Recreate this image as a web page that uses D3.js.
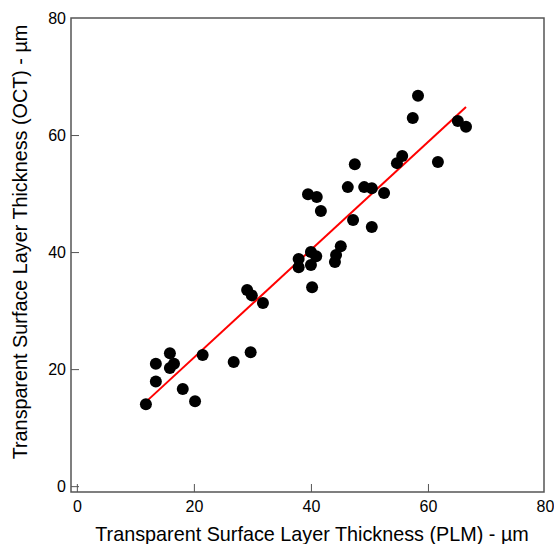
<!DOCTYPE html>
<html>
<head>
<meta charset="utf-8">
<script src="https://cdn.jsdelivr.net/npm/d3@7"></script>
<style>
  html, body { margin: 0; padding: 0; background: #fff; }
  svg { display: block; }
  text { font-family: "Liberation Sans", Arial, sans-serif; }
</style>
</head>
<body>
<svg id="chart" width="554" height="544"></svg>
<script>
// ---- data ----
const plmThickness = [11.8, 13.5, 13.5, 15.9, 15.9, 16.6, 18.1, 20.2, 21.5, 26.8, 29.7, 29.1, 29.9, 31.8,
  37.9, 37.9, 40.0, 40.9, 40.0, 40.2, 39.5, 41.0, 41.7, 45.1, 44.3, 44.1, 47.2, 47.5, 46.3, 49.1,
  50.4, 52.5, 50.4, 54.7, 55.6, 57.4, 58.3, 61.7, 65.1, 66.5];
const octThickness = [14.0, 20.9, 17.9, 22.7, 20.2, 20.9, 16.6, 14.5, 22.4, 21.2, 22.9, 33.5, 32.6, 31.3,
  38.8, 37.4, 40.0, 39.3, 37.8, 34.0, 49.9, 49.4, 47.0, 41.0, 39.5, 38.3, 45.5, 55.0, 51.1, 51.1,
  50.9, 50.1, 44.3, 55.2, 56.4, 62.9, 66.7, 55.4, 62.4, 61.4];
const fitLineX = [11.8, 66.5];
const fitLineY = [14.4, 64.8];
const xTicks = [0, 20, 40, 60, 80];
const yTicks = [0, 20, 40, 60, 80];
const xTitle = "Transparent Surface Layer Thickness (PLM) - µm";
const yTitle = "Transparent Surface Layer Thickness (OCT) - µm";

// ---- layout ----
(function () {
const svg = d3.select("#chart");
const mLeft = 71, mRight = 545, mTop = 18, mBottom = 492;
const x = d3.scaleLinear().domain([-1, 80]).range([mLeft, mRight]);
const y = d3.scaleLinear().domain([-1, 80]).range([mBottom, mTop]);
const frameColor = "#555555";

// frame
svg.append("rect")
  .attr("x", mLeft).attr("y", mTop)
  .attr("width", mRight - 1 - mLeft).attr("height", mBottom - mTop)
  .attr("fill", "none").attr("stroke", frameColor).attr("stroke-width", 1.5);

// x axis (ticks inward)
const xAxis = d3.axisBottom(x).tickValues(xTicks).tickSize(-8).tickPadding(9).tickFormat(d3.format("d"));
const gx = svg.append("g").attr("transform", `translate(0,${mBottom})`).call(xAxis);
gx.select(".domain").remove();
gx.selectAll(".tick line").attr("stroke", frameColor);
gx.selectAll(".tick").filter(d => d === 80).select("line").remove();
gx.selectAll("text").attr("font-size", 16).attr("fill", "#000")
  .style("font-family", "'Liberation Sans', Arial, sans-serif");

// y axis (ticks inward)
const yAxis = d3.axisLeft(y).tickValues(yTicks).tickSize(-8).tickPadding(5).tickFormat(d3.format("d"));
const gy = svg.append("g").attr("transform", `translate(${mLeft},0)`).call(yAxis);
gy.select(".domain").remove();
gy.selectAll(".tick line").attr("stroke", frameColor);
gy.selectAll(".tick").filter(d => d === 80).select("line").remove();
gy.selectAll("text").attr("font-size", 16).attr("fill", "#000")
  .style("font-family", "'Liberation Sans', Arial, sans-serif");

// regression line
svg.append("line")
  .attr("x1", x(fitLineX[0])).attr("y1", y(fitLineY[0]))
  .attr("x2", x(fitLineX[1])).attr("y2", y(fitLineY[1]))
  .attr("stroke", "#ff0000").attr("stroke-width", 2);

// points
svg.append("g").selectAll("circle")
  .data(plmThickness.map((v, i) => [v, octThickness[i]]))
  .join("circle")
  .attr("cx", d => x(d[0])).attr("cy", d => y(d[1]))
  .attr("r", 6).attr("fill", "#000");

// axis titles
svg.append("text")
  .attr("x", 312).attr("y", 541)
  .attr("text-anchor", "middle").attr("font-size", 19.8).attr("fill", "#000")
  .text(xTitle);
svg.append("text")
  .attr("transform", `translate(27,242) rotate(-90)`)
  .attr("text-anchor", "middle").attr("font-size", 19.8).attr("fill", "#000")
  .text(yTitle);
})();
</script>
</body>
</html>
